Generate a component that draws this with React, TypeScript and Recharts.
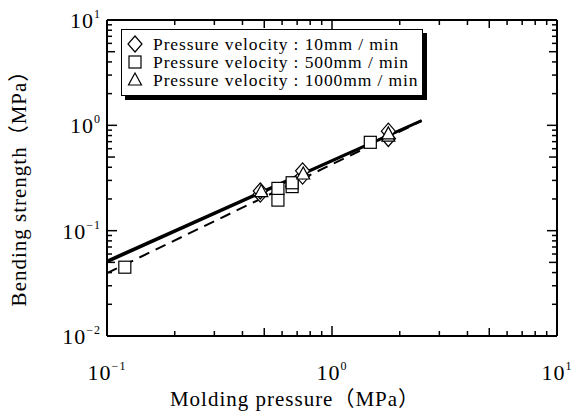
import React from 'react';
import { ComposedChart, XAxis, YAxis, Scatter, Line, Legend, Label } from 'recharts';

const FONT = '"Liberation Serif", "Times New Roman", "Noto Sans CJK JP", serif';

const seriesNames = [
  'Pressure velocity : 10mm / min',
  'Pressure velocity : 500mm / min',
  'Pressure velocity : 1000mm / min',
];

const xTitle = 'Molding pressure（MPa）';
const yTitle = 'Bending strength（MPa）';

const v10 = [
  { x: 0.48, y: 0.222 },
  { x: 0.48, y: 0.238 },
  { x: 0.74, y: 0.33 },
  { x: 0.74, y: 0.37 },
  { x: 1.78, y: 0.75 },
  { x: 1.78, y: 0.88 },
];
const v500 = [
  { x: 0.12, y: 0.045 },
  { x: 0.575, y: 0.195 },
  { x: 0.575, y: 0.252 },
  { x: 0.665, y: 0.262 },
  { x: 0.665, y: 0.285 },
  { x: 1.48, y: 0.69 },
];
const v1000 = [
  { x: 0.485, y: 0.235 },
  { x: 0.745, y: 0.345 },
  { x: 1.78, y: 0.79 },
  { x: 1.78, y: 0.83 },
];

const fit10 = [
  { x: 0.1, y: 0.0503 },
  { x: 2.5, y: 1.1 },
];
const fit500 = [
  { x: 0.1, y: 0.0395 },
  { x: 2.5, y: 1.1 },
];
const fit1000 = [
  { x: 0.1, y: 0.052 },
  { x: 2.5, y: 1.12 },
];

const xTicks = [0.1, 0.2, 0.3, 0.4, 0.5, 0.6, 0.7, 0.8, 0.9, 1, 2, 3, 4, 5, 6, 7, 8, 9, 10];
const yTicks = [
  0.01, 0.02, 0.03, 0.04, 0.05, 0.06, 0.07, 0.08, 0.09,
  0.1, 0.2, 0.3, 0.4, 0.5, 0.6, 0.7, 0.8, 0.9,
  1, 2, 3, 4, 5, 6, 7, 8, 9, 10,
];

type Orient = 'bottom' | 'top' | 'left' | 'right';

const mantissa = (v: number) => {
  const e = Math.floor(Math.log10(v) + 1e-9);
  return { m: Math.round(v / Math.pow(10, e)), e };
};

const expText = (e: number) => (e < 0 ? '−' + Math.abs(e) : String(e));

const makeTick = (orient: Orient, withLabel: boolean) => (props: any) => {
  const { x, y, payload } = props;
  const { m, e } = mantissa(payload.value);
  const len = m === 1 ? 10 : m === 5 ? 8 : 5;
  let x2 = x;
  let y2 = y;
  if (orient === 'bottom') y2 = y - len;
  if (orient === 'top') y2 = y + len;
  if (orient === 'left') x2 = x + len;
  if (orient === 'right') x2 = x - len;
  const showLabel = withLabel && m === 1;
  return (
    <g>
      <line x1={x} y1={y} x2={x2} y2={y2} stroke="#000" strokeWidth={1.5} />
      {showLabel && orient === 'bottom' && (
        <text x={x} y={y + 44} textAnchor="middle" fontFamily={FONT} fontSize={22} fill="#000" letterSpacing={1}>
          <tspan>10</tspan>
          <tspan dy={-10} fontSize={12}>{expText(e)}</tspan>
        </text>
      )}
      {showLabel && orient === 'left' && (
        <text x={x - 6} y={y + 8} textAnchor="end" fontFamily={FONT} fontSize={22} fill="#000" letterSpacing={1}>
          <tspan>10</tspan>
          <tspan dy={-10} fontSize={12}>{expText(e)}</tspan>
        </text>
      )}
    </g>
  );
};

const Diamond = ({ cx, cy }: any) => (
  <polygon
    points={`${cx},${cy - 8} ${cx + 7},${cy} ${cx},${cy + 8} ${cx - 7},${cy}`}
    fill="#fff"
    stroke="#000"
    strokeWidth={1.2}
  />
);
const Square = ({ cx, cy }: any) => (
  <rect x={cx - 6} y={cy - 6} width={12} height={12} fill="#fff" stroke="#000" strokeWidth={1.2} />
);
const Triangle = ({ cx, cy }: any) => (
  <polygon
    points={`${cx},${cy - 7} ${cx + 6.5},${cy + 5} ${cx - 6.5},${cy + 5}`}
    fill="#fff"
    stroke="#000"
    strokeWidth={1.2}
  />
);

const symbols = [Diamond, Square, Triangle];

const LegendBox = () => (
  <div
    style={{
      width: 300,
      border: '1px solid #000',
      boxShadow: '4px 4px 0 0 #000',
      background: '#fff',
      padding: '5px 0 6px 0',
      fontFamily: FONT,
      fontSize: 17.5,
      letterSpacing: 0.9,
      color: '#000',
    }}
  >
    {seriesNames.map((name, i) => {
      const Sym = symbols[i];
      return (
        <div key={name} style={{ height: 18, display: 'flex', alignItems: 'center', whiteSpace: 'nowrap' }}>
          <svg width={31} height={18} style={{ flex: 'none' }}>
            <Sym cx={13} cy={9} />
          </svg>
          <span style={{ lineHeight: '18px' }}>{name}</span>
        </div>
      );
    })}
  </div>
);

export default function App() {
  return (
    <div style={{ position: 'absolute', left: 0, top: 0, width: 580, height: 417, background: '#fff' }}>
      <ComposedChart width={580} height={417} margin={{ top: 19, right: 22, bottom: 80, left: 106 }}>
        <XAxis
          xAxisId={0}
          dataKey="x"
          type="number"
          scale="log"
          domain={[0.1, 10]}
          ticks={xTicks}
          interval={0}
          allowDataOverflow
          height={1}
          tickSize={0}
          tickMargin={0}
          tickLine={false}
          axisLine={{ stroke: '#000', strokeWidth: 2 }}
          tick={makeTick('bottom', true)}
        >
          <Label
            content={(p: any) => {
              const vb = p.viewBox;
              return (
                <text x={vb.x + vb.width / 2 - 37} y={vb.y + 70} textAnchor="middle" fontFamily={FONT} fontSize={21} letterSpacing={1} fill="#000">
                  {xTitle}
                </text>
              );
            }}
          />
        </XAxis>
        <XAxis
          xAxisId="t"
          orientation="top"
          dataKey="x"
          type="number"
          scale="log"
          domain={[0.1, 10]}
          ticks={xTicks}
          interval={0}
          allowDataOverflow
          height={1}
          tickSize={0}
          tickMargin={0}
          tickLine={false}
          axisLine={{ stroke: '#000', strokeWidth: 2 }}
          tick={makeTick('top', false)}
        />
        <YAxis
          yAxisId={0}
          dataKey="y"
          type="number"
          scale="log"
          domain={[0.01, 10]}
          ticks={yTicks}
          interval={0}
          allowDataOverflow
          width={1}
          tickSize={0}
          tickMargin={0}
          tickLine={false}
          axisLine={{ stroke: '#000', strokeWidth: 2 }}
          tick={makeTick('left', true)}
        >
          <Label
            content={(p: any) => {
              const vb = p.viewBox;
              const cx = vb.x + vb.width - 88;
              const cy = vb.y + vb.height / 2 + 5;
              return (
                <text x={cx} y={cy} transform={`rotate(-90 ${cx} ${cy})`} textAnchor="middle" dominantBaseline="central" fontFamily={FONT} fontSize={21} letterSpacing={1} fill="#000">
                  {yTitle}
                </text>
              );
            }}
          />
        </YAxis>
        <YAxis
          yAxisId="r"
          orientation="right"
          dataKey="y"
          type="number"
          scale="log"
          domain={[0.01, 10]}
          ticks={yTicks}
          interval={0}
          allowDataOverflow
          width={1}
          tickSize={0}
          tickMargin={0}
          tickLine={false}
          axisLine={{ stroke: '#000', strokeWidth: 2 }}
          tick={makeTick('right', false)}
        />
        <Legend
          layout="vertical"
          align="center"
          verticalAlign="middle"
          content={() => <LegendBox />}
          wrapperStyle={{ position: 'absolute', left: 121, top: 29, width: 306, height: 72 }}
        />
        <Line data={fit500} dataKey="y" stroke="#000" strokeWidth={2} strokeDasharray="11 7" dot={false} isAnimationActive={false} legendType="none" />
        <Line data={fit10} dataKey="y" stroke="#000" strokeWidth={2.5} dot={false} isAnimationActive={false} legendType="none" />
        <Line data={fit1000} dataKey="y" stroke="#000" strokeWidth={2.2} dot={false} isAnimationActive={false} legendType="none" />
        <Scatter name={seriesNames[1]} data={v500} shape={Square} isAnimationActive={false} />
        <Scatter name={seriesNames[0]} data={v10} shape={Diamond} isAnimationActive={false} />
        <Scatter name={seriesNames[2]} data={v1000} shape={Triangle} isAnimationActive={false} />
      </ComposedChart>
    </div>
  );
}
